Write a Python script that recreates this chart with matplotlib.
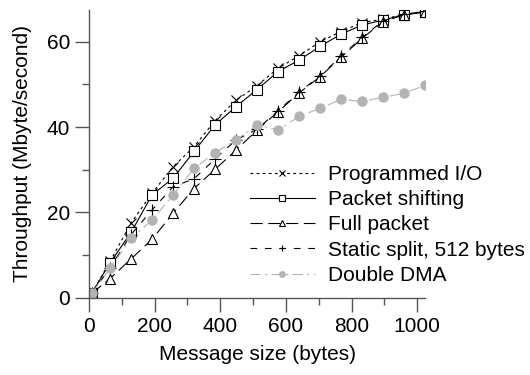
import numpy as np
from matplotlib import pyplot as plt
from matplotlib.ticker import MultipleLocator

plt.rcParams['font.family'] = ['Liberation Sans', 'DejaVu Sans']

sizes = [8, 64, 128, 192, 256, 320, 384, 448, 512, 576, 640, 704, 768, 832, 896, 960, 1024]
prog_io = [1, 8.5, 17.5, 24.5, 30.7, 35.4, 41.5, 46.3, 49.7, 53.8, 56.7, 60.0, 62.4, 64.5, 65.3, 66.4, 67.2]
pkt_shift = [1, 8.2, 15.3, 24.1, 28.0, 34.3, 40.5, 44.8, 48.8, 53.0, 55.7, 58.9, 61.8, 63.9, 65.1, 66.3, 67.0]
full_pkt = [1, 4.5, 9.1, 13.7, 19.8, 25.6, 30.1, 34.6, 39.3, 43.6, 48.0, 51.8, 56.4, 60.8, 64.7, 66.3, 67.0]
static_split = [1, 7.0, 14.8, 20.6, 26.0, 27.9, 32.5, 37.0, 39.5, 43.8, 48.2, 52.0, 56.6, 61.0, 64.9, 66.4, 67.1]
double_dma = [1, 6.9, 13.9, 18.2, 24.1, 30.3, 34.0, 37.0, 40.5, 39.3, 42.5, 44.4, 46.5, 46.0, 47.0, 47.9, 49.8]

fig = plt.figure(figsize=(5.3, 3.75), dpi=100)
ax = fig.add_axes([0.168, 0.206, 0.634, 0.768])

ax.plot(sizes, prog_io, color='black', lw=0.8, dashes=(2.5, 3), marker='x', ms=7,
        mew=0.8, label='Programmed I/O')
ax.plot(sizes, pkt_shift, color='black', lw=0.8, marker='s', ms=7, mfc='white',
        mew=0.8, label='Packet shifting')
ax.plot(sizes, full_pkt, color='black', lw=0.8, dashes=(11, 5), marker='^', ms=6.5,
        mfc='white', mew=0.8, label='Full packet')
ax.plot(sizes, static_split, color='black', lw=0.8, dashes=(6, 7), marker='+', ms=8,
        mew=0.8, label='Static split, 512 bytes')
ax.plot(sizes, double_dma, color='#b3b3b3', lw=0.8, dashes=(9, 4, 2, 4), marker='o',
        ms=6.5, mfc='#b3b3b3', mec='#b3b3b3', label='Double DMA')

ax.set_xlim(0, 1024)
ax.set_ylim(0, 67.5)
ax.xaxis.set_major_locator(MultipleLocator(200))
ax.xaxis.set_minor_locator(MultipleLocator(100))
ax.yaxis.set_major_locator(MultipleLocator(20))
ax.yaxis.set_minor_locator(MultipleLocator(10))
for s in ['top', 'right']:
    ax.spines[s].set_visible(False)
for s in ['left', 'bottom']:
    ax.spines[s].set_color('#555555')
    ax.spines[s].set_linewidth(1.0)
ax.tick_params(which='major', length=10, width=1, color='#555555', labelsize=15)
ax.tick_params(which='minor', length=5, width=1, color='#555555')
ax.set_xlabel('Message size (bytes)', fontsize=15, labelpad=7)
ax.set_ylabel('Throughput (Mbyte/second)', fontsize=15, labelpad=11)

ax.legend(loc='upper left', bbox_to_anchor=(0.479, 0.461), frameon=False, fontsize=15,
          handlelength=3.1, markerscale=0.6, labelspacing=0.3, handletextpad=0.63,
          borderpad=0, borderaxespad=0)

fig.savefig('out.png')
